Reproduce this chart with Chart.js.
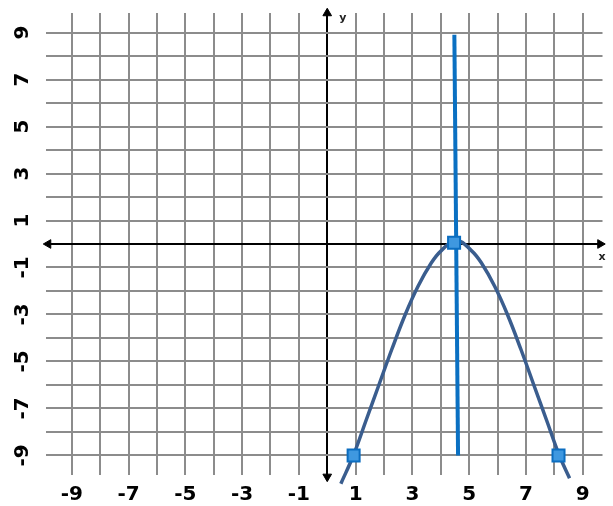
<!DOCTYPE html>
<html>
<head>
<meta charset="utf-8">
<script src="https://cdn.jsdelivr.net/npm/chart.js@4.4.1/dist/chart.umd.min.js"></script>
<style>
  html, body { margin: 0; padding: 0; background: #fff; }
  #wrap { width: 613px; height: 506px; position: relative; }
</style>
</head>
<body>
<div id="wrap"><canvas id="graph"></canvas></div>
<script>
// values
const xLabels = [-9, -7, -5, -3, -1, 1, 3, 5, 7, 9];
const yLabels = [9, 7, 5, 3, 1, -1, -3, -5, -7, -9];

// the hand-drawn parabola
const curveX = [0.48, 0.92, 1.37, 1.82, 2.27, 2.75, 3.20, 3.67, 4.02, 4.55,
                5.08, 5.43, 5.90, 6.35, 6.83, 7.28, 7.73, 8.18, 8.54];
const curveY = [-10.2, -9, -7.5, -6, -4.5, -3, -1.8, -0.8, -0.28, 0.15,
                -0.28, -0.8, -1.8, -3, -4.5, -6, -7.5, -9, -9.97];

// axis of symmetry (slightly slanted in the picture)
const symX = [4.48, 4.61];
const symY = [8.9, -9.0];

// marked points
const markX = [0.93, 4.47, 8.15];
const markY = [-9.0, 0.05, -9.0];

// arrow heads at the ends of the axes
const arrowX = [9.62, -9.83, 0, 0];
const arrowY = [0, 0, 9.82, -9.9];
const arrowTurn = [90, 270, 0, 180];

const GRID = '#8c8c8c';
const zip = (xs, ys) => xs.map((x, i) => ({ x: x, y: ys[i] }));

const axisNames = {
  id: 'axisNames',
  afterDatasetsDraw(chart) {
    const { ctx, scales: { x, y } } = chart;
    ctx.save();
    ctx.fillStyle = '#222';
    ctx.font = 'bold 11px "DejaVu Sans"';
    ctx.textAlign = 'center';
    ctx.textBaseline = 'middle';
    ctx.fillText('x', x.getPixelForValue(9.68), y.getPixelForValue(-0.55));
    ctx.fillText('y', x.getPixelForValue(0.55), y.getPixelForValue(9.6));
    ctx.restore();
  }
};

new Chart(document.getElementById('graph'), {
  type: 'scatter',
  data: {
    datasets: [
      {
        label: 'marks',
        data: zip(markX, markY),
        pointStyle: 'rect',
        pointRadius: 8.5,
        backgroundColor: '#3f98e0',
        borderColor: '#0b6dc0',
        borderWidth: 2,
        order: 1,
        clip: false
      },
      {
        label: 'parabola',
        data: zip(curveX, curveY),
        showLine: true,
        borderColor: '#3a5d8e',
        borderWidth: 3.5,
        pointRadius: 0,
        tension: 0.4,
        order: 2,
        clip: false
      },
      {
        label: 'symmetry',
        data: zip(symX, symY),
        showLine: true,
        borderColor: '#0a70c2',
        borderWidth: 4,
        pointRadius: 0,
        order: 3
      },
      {
        label: 'arrows',
        data: zip(arrowX, arrowY),
        pointStyle: 'triangle',
        pointRadius: 5,
        rotation: arrowTurn,
        backgroundColor: '#000',
        borderColor: '#000',
        borderWidth: 1,
        order: 4,
        clip: false
      }
    ]
  },
  options: {
    responsive: true,
    maintainAspectRatio: false,
    animation: false,
    events: [],
    layout: { padding: { left: 0, right: 3, top: 13, bottom: 0 } },
    plugins: { legend: { display: false }, tooltip: { enabled: false } },
    scales: {
      x: {
        type: 'linear',
        min: -9.91,
        max: 9.7,
        afterFit: s => { s.height = 31; s.paddingLeft = 0; s.paddingRight = 0; },
        border: { display: false },
        grid: {
          drawTicks: false,
          lineWidth: 2,
          color: c => (c.tick && c.tick.value === 0 ? '#000' : GRID)
        },
        ticks: {
          stepSize: 1,
          includeBounds: false,
          autoSkip: false,
          maxRotation: 0,
          padding: 8,
          color: '#000',
          font: { family: '"DejaVu Sans"', size: 20, weight: 'bold' },
          callback: v => (xLabels.includes(v) ? String(v) : '')
        }
      },
      y: {
        type: 'linear',
        min: -9.83,
        max: 9.83,
        afterFit: s => { s.width = 46; s.paddingTop = 0; s.paddingBottom = 0; },
        border: { display: false },
        grid: {
          drawTicks: false,
          lineWidth: 2,
          color: c => (c.tick && c.tick.value === 0 ? '#000' : GRID)
        },
        ticks: {
          stepSize: 1,
          includeBounds: false,
          autoSkip: false,
          minRotation: 90,
          maxRotation: 90,
          crossAlign: 'center',
          padding: 12,
          color: '#000',
          font: { family: '"DejaVu Sans"', size: 20, weight: 'bold' },
          callback: v => (yLabels.includes(v) ? String(v) : '')
        }
      }
    }
  },
  plugins: [axisNames]
});
</script>
</body>
</html>
